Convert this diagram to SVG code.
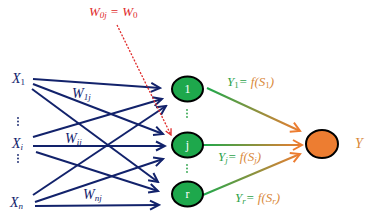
<svg xmlns="http://www.w3.org/2000/svg" width="369" height="217" viewBox="0 0 369 217">
<style>
.bg{fill:#ffffff}
.w{stroke:#12226b;stroke-width:2;fill:none;marker-end:url(#navy)}
.hid{fill:#1ea84c;stroke:#000;stroke-width:2}
.out{fill:#ed7d31;stroke:#000;stroke-width:2}
.m{font-family:"Liberation Serif","DejaVu Serif",serif;font-style:italic;font-size:13px}
.big{font-size:14px}
.nv{fill:#12226b}
.gr{fill:#2ea34a}
.or{fill:#d9893a}
.rd{fill:#e02a2a}
.nl{font-family:"Liberation Serif","DejaVu Serif",serif;font-size:12px;fill:#ffffff;text-anchor:middle}
.gl{stroke-width:2;fill:none;marker-end:url(#orng)}
</style>
<defs>
<marker id="navy" markerWidth="12" markerHeight="12" refX="10" refY="6" orient="auto" markerUnits="userSpaceOnUse">
<path d="M1,1.5 L10,6 L1,10.5" fill="none" stroke="#12226b" stroke-width="2"/>
</marker>
<marker id="orng" markerWidth="12" markerHeight="12" refX="10" refY="6" orient="auto" markerUnits="userSpaceOnUse">
<path d="M1,1 L10,6 L1,11" fill="none" stroke="#ed7d31" stroke-width="2"/>
</marker>
<marker id="red" markerWidth="8" markerHeight="8" refX="7" refY="4" orient="auto" markerUnits="userSpaceOnUse">
<path d="M1,1 L7,4 L1,7" fill="none" stroke="#e02a2a" stroke-width="1.3"/>
</marker>
<linearGradient id="g1" gradientUnits="userSpaceOnUse" x1="207" y1="88" x2="300" y2="131"><stop offset="0" stop-color="#1ea84c"/><stop offset="1" stop-color="#ed7d31"/></linearGradient>
<linearGradient id="g2" gradientUnits="userSpaceOnUse" x1="203" y1="145" x2="302" y2="145"><stop offset="0" stop-color="#1ea84c"/><stop offset="1" stop-color="#ed7d31"/></linearGradient>
<linearGradient id="g3" gradientUnits="userSpaceOnUse" x1="203" y1="195" x2="300" y2="154"><stop offset="0" stop-color="#1ea84c"/><stop offset="1" stop-color="#ed7d31"/></linearGradient>
</defs>
<rect class="bg" x="0" y="0" width="369" height="217"/>
<g id="connectors">
<line class="w" x1="33" y1="79" x2="160" y2="88"/>
<line class="w" x1="33" y1="84" x2="163" y2="134"/>
<line class="w" x1="32" y1="89" x2="158" y2="182"/>
<line class="w" x1="33" y1="137" x2="162" y2="99"/>
<line class="w" x1="33" y1="146" x2="165" y2="146"/>
<line class="w" x1="36" y1="152" x2="158" y2="191"/>
<line class="w" x1="33" y1="195" x2="166" y2="106"/>
<line class="w" x1="35" y1="202" x2="163" y2="159"/>
<line class="w" x1="35" y1="206" x2="159" y2="205"/>
<line x1="117" y1="25" x2="171" y2="135" stroke="#e02a2a" stroke-width="1.3" stroke-dasharray="2,1.5" marker-end="url(#red)"/>
<line class="gl" stroke="url(#g1)" x1="207" y1="88" x2="300" y2="131"/>
<line class="gl" stroke="url(#g2)" x1="203" y1="145" x2="302" y2="145"/>
<line class="gl" stroke="url(#g3)" x1="203" y1="195" x2="300" y2="154"/>
</g>
<g id="x1"><text class="m big nv" x="12" y="83">X<tspan font-size="9" dy="2" font-style="normal">1</tspan></text></g>
<g id="xi"><text class="m big nv" x="12" y="148">X<tspan font-size="9" dy="2">i</tspan></text></g>
<g id="xn"><text class="m big nv" x="10" y="207">X<tspan font-size="9" dy="2">n</tspan></text></g>
<g id="dots-in" class="nv">
<circle cx="18" cy="118" r="0.9"/><circle cx="18" cy="121.5" r="0.9"/><circle cx="18" cy="125" r="0.9"/>
<circle cx="18" cy="155" r="0.9"/><circle cx="18" cy="158.5" r="0.9"/><circle cx="18" cy="162" r="0.9"/>
</g>
<g id="wlabels">
<text class="m big nv" x="72" y="98">W<tspan font-size="9" dy="2">1j</tspan></text>
<text class="m big nv" x="65" y="143">W<tspan font-size="9" dy="2">ij</tspan></text>
<text class="m big nv" x="83" y="199">W<tspan font-size="9" dy="2">nj</tspan></text>
</g>
<g id="bias"><text class="m rd" x="89" y="16">W<tspan font-size="9" dy="2">0j</tspan><tspan dy="-2"> = W</tspan><tspan font-size="9" dy="2" font-style="normal">0</tspan></text></g>
<g id="node-1"><ellipse class="hid" cx="187.5" cy="89" rx="15.5" ry="12.5"/><text class="nl" x="187.5" y="93">1</text></g>
<g id="node-j"><ellipse class="hid" cx="187.5" cy="145" rx="15.5" ry="12.5"/><text class="nl" x="187.5" y="149">j</text></g>
<g id="node-r"><ellipse class="hid" cx="187.5" cy="194" rx="15.5" ry="12.5"/><text class="nl" x="187.5" y="198">r</text></g>
<g id="dots-hidden" class="gr">
<circle cx="187" cy="110" r="0.9"/><circle cx="187" cy="113.5" r="0.9"/><circle cx="187" cy="117" r="0.9"/>
<circle cx="187" cy="165" r="0.9"/><circle cx="187" cy="168.5" r="0.9"/><circle cx="187" cy="172" r="0.9"/>
</g>
<g id="node-out"><ellipse class="out" cx="322" cy="144" rx="16" ry="14"/></g>
<g id="y-label"><text class="m big or" x="355" y="148">Y</text></g>
<g id="ylabels">
<text class="m" x="227" y="86"><tspan class="gr">Y</tspan><tspan class="gr" font-size="9" dy="2" font-style="normal">1</tspan><tspan class="gr" dy="-2">=</tspan><tspan class="or"> f(S</tspan><tspan class="or" font-size="9" dy="2" font-style="normal">1</tspan><tspan class="or" dy="-2">)</tspan></text>
<text class="m" x="218" y="161"><tspan class="gr">Y</tspan><tspan class="gr" font-size="9" dy="2">j</tspan><tspan class="gr" dy="-2">=</tspan><tspan class="or"> f(S</tspan><tspan class="or" font-size="9" dy="2">j</tspan><tspan class="or" dy="-2">)</tspan></text>
<text class="m" x="235" y="202"><tspan class="gr">Y</tspan><tspan class="gr" font-size="9" dy="2">r</tspan><tspan class="gr" dy="-2">=</tspan><tspan class="or"> f(S</tspan><tspan class="or" font-size="9" dy="2">r</tspan><tspan class="or" dy="-2">)</tspan></text>
</g>
</svg>
